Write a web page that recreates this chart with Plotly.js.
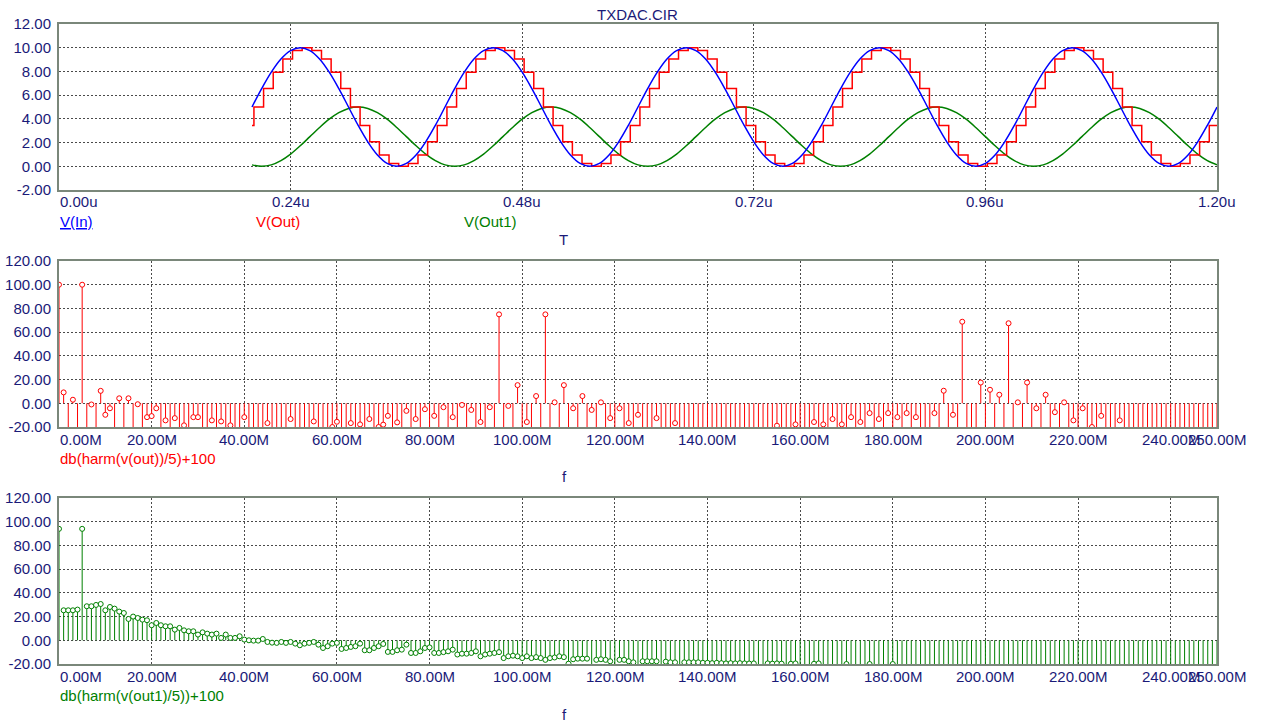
<!DOCTYPE html>
<html><head><meta charset="utf-8">
<script src="https://cdn.plot.ly/plotly-3.0.1.min.js"></script>
<style>html,body{margin:0;padding:0;background:#fff}#chart{width:1261px;height:722px}</style>
</head><body><div id="chart"></div>
<script>
// ---------- transient: time in microseconds ----------
const tIn = [
0.20,0.21,0.22,0.23,0.24,0.25,0.26,0.27,0.28,0.29,
0.30,0.31,0.32,0.33,0.34,0.35,0.36,0.37,0.38,0.39,
0.40,0.41,0.42,0.43,0.44,0.45,0.46,0.47,0.48,0.49,
0.50,0.51,0.52,0.53,0.54,0.55,0.56,0.57,0.58,0.59,
0.60,0.61,0.62,0.63,0.64,0.65,0.66,0.67,0.68,0.69,
0.70,0.71,0.72,0.73,0.74,0.75,0.76,0.77,0.78,0.79,
0.80,0.81,0.82,0.83,0.84,0.85,0.86,0.87,0.88,0.89,
0.90,0.91,0.92,0.93,0.94,0.95,0.96,0.97,0.98,0.99,
1.00,1.01,1.02,1.03,1.04,1.05,1.06,1.07,1.08,1.09,
1.10,1.11,1.12,1.13,1.14,1.15,1.16,1.17,1.18,1.19,
1.20];
const vIn = [
5,6.55,7.94,9.05,9.76,10,9.76,9.05,7.94,6.55,5,3.45,2.06,0.95,0.24,0,0.24,0.95,2.06,3.45,
5,6.55,7.94,9.05,9.76,10,9.76,9.05,7.94,6.55,5,3.45,2.06,0.95,0.24,0,0.24,0.95,2.06,3.45,
5,6.55,7.94,9.05,9.76,10,9.76,9.05,7.94,6.55,5,3.45,2.06,0.95,0.24,0,0.24,0.95,2.06,3.45,
5,6.55,7.94,9.05,9.76,10,9.76,9.05,7.94,6.55,5,3.45,2.06,0.95,0.24,0,0.24,0.95,2.06,3.45,
5,6.55,7.94,9.05,9.76,10,9.76,9.05,7.94,6.55,5,3.45,2.06,0.95,0.24,0,0.24,0.95,2.06,3.45,
5];
const vOut1 = [
0.12,0,0.12,0.48,1.03,1.73,2.5,3.27,3.97,4.52,4.88,5,4.88,4.52,3.97,3.27,2.5,1.73,1.03,0.48,
0.12,0,0.12,0.48,1.03,1.73,2.5,3.27,3.97,4.52,4.88,5,4.88,4.52,3.97,3.27,2.5,1.73,1.03,0.48,
0.12,0,0.12,0.48,1.03,1.73,2.5,3.27,3.97,4.52,4.88,5,4.88,4.52,3.97,3.27,2.5,1.73,1.03,0.48,
0.12,0,0.12,0.48,1.03,1.73,2.5,3.27,3.97,4.52,4.88,5,4.88,4.52,3.97,3.27,2.5,1.73,1.03,0.48,
0.12,0,0.12,0.48,1.03,1.73,2.5,3.27,3.97,4.52,4.88,5,4.88,4.52,3.97,3.27,2.5,1.73,1.03,0.48,
0.12];
const tOut = [
0.200,
0.202,0.212,0.222,0.232,0.242,0.252,0.262,0.272,0.282,0.292,
0.302,0.312,0.322,0.332,0.342,0.352,0.362,0.372,0.382,0.392,
0.402,0.412,0.422,0.432,0.442,0.452,0.462,0.472,0.482,0.492,
0.502,0.512,0.522,0.532,0.542,0.552,0.562,0.572,0.582,0.592,
0.602,0.612,0.622,0.632,0.642,0.652,0.662,0.672,0.682,0.692,
0.702,0.712,0.722,0.732,0.742,0.752,0.762,0.772,0.782,0.792,
0.802,0.812,0.822,0.832,0.842,0.852,0.862,0.872,0.882,0.892,
0.902,0.912,0.922,0.932,0.942,0.952,0.962,0.972,0.982,0.992,
1.002,1.012,1.022,1.032,1.042,1.052,1.062,1.072,1.082,1.092,
1.102,1.112,1.122,1.132,1.142,1.152,1.162,1.172,1.182,1.192,
1.200];
const vOut = [
3.45,
5,6.55,7.94,9.05,9.76,10,9.76,9.05,7.94,6.55,5,3.45,2.06,0.95,0.24,0,0.24,0.95,2.06,3.45,
5,6.55,7.94,9.05,9.76,10,9.76,9.05,7.94,6.55,5,3.45,2.06,0.95,0.24,0,0.24,0.95,2.06,3.45,
5,6.55,7.94,9.05,9.76,10,9.76,9.05,7.94,6.55,5,3.45,2.06,0.95,0.24,0,0.24,0.95,2.06,3.45,
5,6.55,7.94,9.05,9.76,10,9.76,9.05,7.94,6.55,5,3.45,2.06,0.95,0.24,0,0.24,0.95,2.06,3.45,
5,6.55,7.94,9.05,9.76,10,9.76,9.05,7.94,6.55,5,3.45,2.06,0.95,0.24,0,0.24,0.95,2.06,3.45,
3.45];

// ---------- spectra: frequency in MHz ----------
const freqMHz = [
0,1,2,3,4,5,6,7,8,9,10,11,12,13,14,15,16,17,18,19,20,21,22,23,24,25,26,27,28,29,
30,31,32,33,34,35,36,37,38,39,40,41,42,43,44,45,46,47,48,49,50,51,52,53,54,55,56,57,58,59,
60,61,62,63,64,65,66,67,68,69,70,71,72,73,74,75,76,77,78,79,80,81,82,83,84,85,86,87,88,89,
90,91,92,93,94,95,96,97,98,99,100,101,102,103,104,105,106,107,108,109,110,111,112,113,114,115,116,117,118,119,
120,121,122,123,124,125,126,127,128,129,130,131,132,133,134,135,136,137,138,139,140,141,142,143,144,145,146,147,148,149,
150,151,152,153,154,155,156,157,158,159,160,161,162,163,164,165,166,167,168,169,170,171,172,173,174,175,176,177,178,179,
180,181,182,183,184,185,186,187,188,189,190,191,192,193,194,195,196,197,198,199,200,201,202,203,204,205,206,207,208,209,
210,211,212,213,214,215,216,217,218,219,220,221,222,223,224,225,226,227,228,229,230,231,232,233,234,235,236,237,238,239,
240,241,242,243,244,245,246,247,248,249,250];
const dbOut = [
100,9.2,-30,3,-30,100,-30,-1,-30,10.5,
-9.7,-4.2,-30,4.2,-30,4.2,-30,-0.8,-30,-11.7,
-10.8,-4.2,-30,-14.4,-30,-12.5,-30,-18.6,-30,-11.7,
-11.7,-30,-30,-14.4,-30,-15.3,-30,-18.6,-30,-30,
-11.7,-30,-30,-30,-30,-16.7,-30,-30,-30,-30,
-13.3,-30,-30,-30,-30,-15.3,-30,-30,-30,-20,
-15.6,-30,-30,-16.7,-30,-17.8,-30,-13.3,-30,-20,
-18,-10.6,-30,-16.1,-30,-6.4,-30,-13.3,-30,-5,
-30,-10.6,-30,-3.3,-30,-11.7,-30,-1.4,-30,-5.6,
-30,-15.8,-30,-3.3,-30,75,-30,-2.2,-30,15.3,
-30,-15.8,-30,6.1,-30,75,-30,0.8,-30,15.3,
-30,-4.2,-30,6.1,-30,-5.6,-30,0.8,-30,-12.5,
-30,-4.2,-30,-16.7,-30,-9.7,-30,-30,-30,-12.5,
-30,-30,-30,-16.7,-30,-30,-30,-30,-30,-30,
-30,-30,-30,-30,-30,-30,-30,-30,-30,-30,
-30,-30,-30,-30,-30,-18.9,-30,-30,-30,-17.8,
-30,-30,-30,-15.8,-30,-17.8,-30,-13.3,-30,-17.8,
-30,-11.7,-30,-15.8,-30,-8.3,-30,-13.3,-30,-8.3,
-30,-11.7,-30,-8.3,-30,-11.7,-30,-30,-30,-8.3,
-30,10.6,-30,-9.7,-30,68.8,-30,-30,-30,17.5,
-30,11.4,-30,7.2,-30,67.5,-30,0.8,-30,17.5,
-30,-4.2,-30,7.2,-30,-7.5,-30,0.8,-30,-14.4,
-30,-4.2,-30,-20,-30,-10.6,-30,-30,-30,-14.4,
-30,-30,-30,-30,-30,-30,-30,-30,-30,-30,
-30,-30,-30,-30,-30,-30,-30,-30,-30,-30,
-30];
const dbOut1 = [
94,25.3,25.3,25.3,25.9,94,28.7,28.7,29.8,30.6,
25.3,28.1,26.7,24.2,23,18,20,18.8,17.4,16.9,
12.7,14.6,12.7,11.8,11.8,9,10.4,8.4,7.6,7.6,
4.8,6.7,5.6,4.8,5.6,2,4.8,2,2,3.4,
0.6,0,-0.3,-0.3,1.1,-1.4,-2,-2.2,-1.4,-2.2,
-1.4,-2.8,-4.2,-2.8,-2.2,-1.4,-3.7,-6.5,-5,-2.8,
-2.2,-7.3,-6.5,-5.6,-5,-2.8,-8.4,-8.4,-6.5,-5,
-3.1,-9.8,-9.8,-8.4,-7.9,-3.7,-10.7,-10.7,-9.3,-6.5,
-6,-10.7,-10.7,-10,-9.3,-7.9,-12,-11.3,-11.3,-10.7,
-9.3,-13.5,-12,-11.3,-10.7,-10,-15,-13.5,-13,-13.5,
-15,-13.5,-15,-14.2,-15,-16.5,-15,-14.5,-13.5,-14.2,
-19.7,-16,-15.5,-15.5,-15.5,-25,-16.5,-16,-16.5,-17.7,
-25,-16.5,-16.5,-17.7,-18.6,-25,-17.7,-17.7,-17.7,-17.7,
-25,-18,-18.6,-18.6,-25,-18.6,-18.6,-18.6,-18.6,-19,
-19,-19.3,-19,-19.3,-19.5,-19.3,-19.5,-19.3,-19.5,-19.6,
-19.5,-25,-25,-19.5,-19.7,-19.5,-19.7,-25,-19.8,-19.5,
-25,-25,-25,-19.8,-19.5,-25,-25,-25,-25,-25,
-20,-25,-25,-25,-25,-20,-25,-25,-25,-25,
-20,-25,-25,-25,-25,-25,-25,-25,-25,-25,
-25,-25,-25,-25,-25,-25,-25,-25,-25,-25,
-25,-25,-25,-25,-25,-25,-25,-25,-25,-25,
-25,-25,-25,-25,-25,-25,-25,-25,-25,-25,
-25,-25,-25,-25,-25,-25,-25,-25,-25,-25,
-25,-25,-25,-25,-25,-25,-25,-25,-25,-25,
-25,-25,-25,-25,-25,-25,-25,-25,-25,-25,
-25];

// ---------- tick labels ----------
const yTopTicks = [-2,0,2,4,6,8,10,12];
const yTopText = ['-2.00','0.00','2.00','4.00','6.00','8.00','10.00','12.00'];
const xTopTicks = [0,0.24,0.48,0.72,0.96,1.2];
const xTopText = ['0.00u','0.24u','0.48u','0.72u','0.96u','1.20u'];
const ySpecTicks = [-20,0,20,40,60,80,100,120];
const ySpecText = ['-20.00','0.00','20.00','40.00','60.00','80.00','100.00','120.00'];
const xSpecTicks = [0,20,40,60,80,100,120,140,160,180,200,220,240,250];
const xSpecText = ['0.00M','20.00M','40.00M','60.00M','80.00M','100.00M','120.00M','140.00M','160.00M','180.00M','200.00M','220.00M','240.00M','250.00M'];

const FONT = 'Liberation Sans, Arial, sans-serif';
const NAVY = '#1a1a78';
const RED = '#ff0000', GREEN = '#008000', BLUE = '#0000ff';

function stems(f, v) {
  const x = [], y = [];
  for (let i = 0; i < f.length; i++) { x.push(f[i], f[i], null); y.push(0, v[i], null); }
  return {x, y};
}
const sOut = stems(freqMHz, dbOut);
const sOut1 = stems(freqMHz, dbOut1);

const traces = [
  {x: tIn, y: vOut1, xaxis: 'x', yaxis: 'y', mode: 'lines', line: {color: GREEN, width: 1.5, shape: 'spline'}, hoverinfo: 'skip'},
  {x: tOut, y: vOut, xaxis: 'x', yaxis: 'y', mode: 'lines', line: {color: RED, width: 1.5, shape: 'hv'}, hoverinfo: 'skip'},
  {x: tIn, y: vIn, xaxis: 'x', yaxis: 'y', mode: 'lines', line: {color: BLUE, width: 1.5, shape: 'spline'}, hoverinfo: 'skip'},
  {x: sOut.x, y: sOut.y, xaxis: 'x2', yaxis: 'y2', mode: 'lines', line: {color: RED, width: 1}, hoverinfo: 'skip'},
  {x: freqMHz, y: dbOut, xaxis: 'x2', yaxis: 'y2', mode: 'markers', cliponaxis: true,
   marker: {symbol: 'circle', size: 5, color: '#ffffff', line: {color: RED, width: 1}}, hoverinfo: 'skip'},
  {x: sOut1.x, y: sOut1.y, xaxis: 'x3', yaxis: 'y3', mode: 'lines', line: {color: GREEN, width: 1}, hoverinfo: 'skip'},
  {x: freqMHz, y: dbOut1, xaxis: 'x3', yaxis: 'y3', mode: 'markers', cliponaxis: true,
   marker: {symbol: 'circle', size: 5, color: '#ffffff', line: {color: GREEN, width: 1}}, hoverinfo: 'skip'}
];

const XD = [59/1261, 1217/1261];
function xax(range, ticks, anchor) {
  return {domain: XD, range: range, anchor: anchor, tickmode: 'array', tickvals: ticks, showticklabels: false,
    ticks: '', showgrid: true, gridcolor: '#4a4a4a', gridwidth: 1, griddash: '2px,2px', zeroline: false,
    showline: true, mirror: true, linecolor: '#7a877a', linewidth: 2, layer: 'below traces', automargin: false, fixedrange: true};
}
function yax(domain, range, ticks, text, anchor) {
  return {domain: domain, range: range, anchor: anchor, tickmode: 'array', tickvals: ticks, ticktext: text,
    ticks: '', ticklabelstandoff: 3, tickfont: {family: FONT, size: 15, color: NAVY},
    showgrid: true, gridcolor: '#4a4a4a', gridwidth: 1, griddash: '2px,2px', zeroline: false,
    showline: true, mirror: true, linecolor: '#7a877a', linewidth: 2, layer: 'below traces', automargin: false, fixedrange: true};
}

const annotations = [];
function xLabels(ticks, text, xref, yref, color) {
  for (let i = 0; i < ticks.length; i++) {
    annotations.push({x: ticks[i], y: 0, xref: xref, yref: yref + ' domain', text: text[i], showarrow: false,
      xanchor: i === 0 ? 'left' : 'center', yanchor: 'middle', yshift: -12, xshift: i === 0 ? -1 : 0,
      font: {family: FONT, size: 15, color: NAVY}});
  }
}
xLabels(xTopTicks, xTopText, 'x', 'y');
xLabels(xSpecTicks, xSpecText, 'x2', 'y2');
xLabels(xSpecTicks, xSpecText, 'x3', 'y3');

function lbl(text, px, py, color, anchor) {
  annotations.push({x: px / 1261, y: 1 - py / 722, xref: 'paper', yref: 'paper', text: text, showarrow: false,
    xanchor: anchor || 'left', yanchor: 'middle', font: {family: FONT, size: 15, color: color}});
}
lbl('TXDAC.CIR', 637, 14, NAVY, 'center');
lbl('<u>V(In)</u>', 58, 222, BLUE);
lbl('V(Out)', 254, 222, RED);
lbl('V(Out1)', 462, 222, GREEN);
lbl('T', 563, 239, NAVY, 'center');
lbl('db(harm(v(out))/5)+100', 58, 458, RED);
lbl('f', 564, 476, NAVY, 'center');
lbl('db(harm(v(out1)/5))+100', 58, 695, GREEN);
lbl('f', 564, 714, NAVY, 'center');

const layout = {
  width: 1261, height: 722, margin: {l: 0, r: 0, t: 0, b: 0}, showlegend: false,
  paper_bgcolor: '#ffffff', plot_bgcolor: '#ffffff',
  xaxis: xax([0, 1.2], xTopTicks, 'y'),
  xaxis2: xax([0, 250], xSpecTicks, 'y2'),
  xaxis3: xax([0, 250], xSpecTicks, 'y3'),
  yaxis: yax([1 - 190/722, 1 - 24/722], [-2, 12], yTopTicks, yTopText, 'x'),
  yaxis2: yax([1 - 427/722, 1 - 261/722], [-20, 120], ySpecTicks, ySpecText, 'x2'),
  yaxis3: yax([1 - 664/722, 1 - 498/722], [-20, 120], ySpecTicks, ySpecText, 'x3'),
  annotations: annotations
};
Plotly.newPlot('chart', traces, layout, {staticPlot: true, displayModeBar: false});
</script>
</body></html>
